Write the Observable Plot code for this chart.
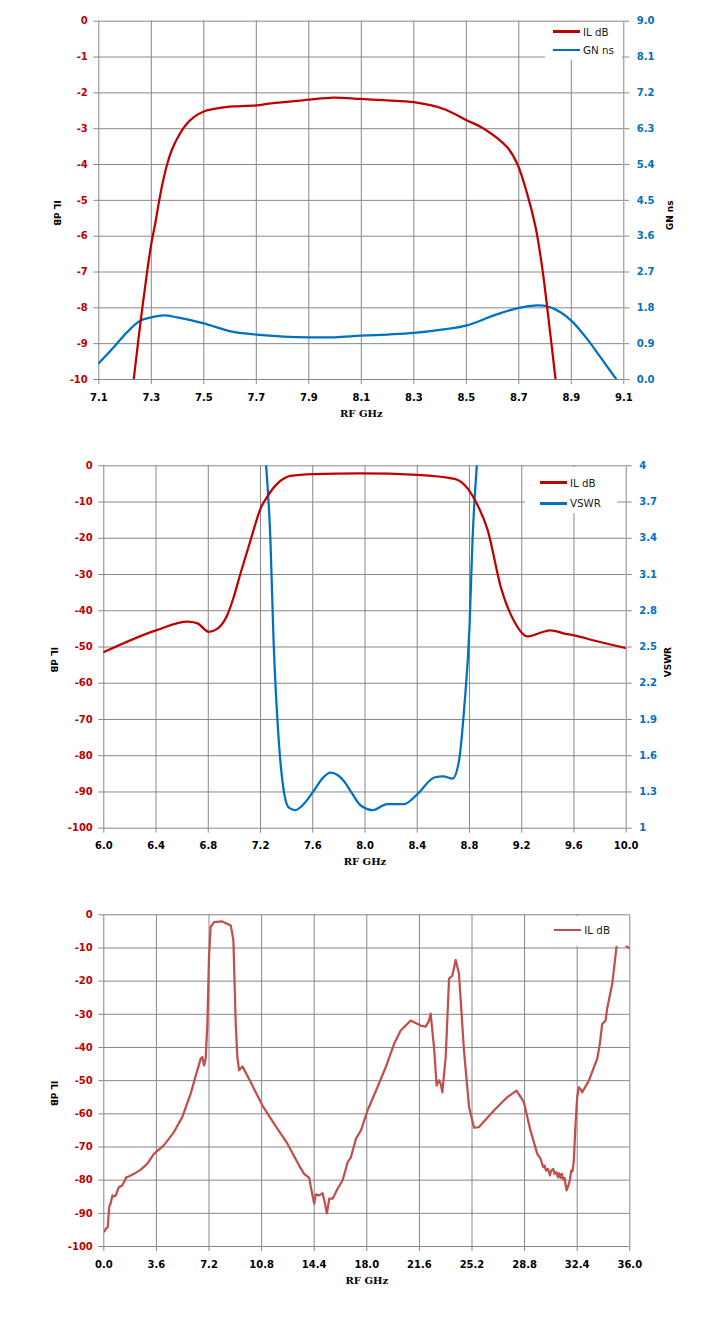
<!DOCTYPE html>
<html><head><meta charset="utf-8">
<script src="https://cdn.jsdelivr.net/npm/d3@7"></script>
<script src="https://cdn.jsdelivr.net/npm/@observablehq/plot@0.6"></script>
<style>
body{margin:0;background:#fff;}
.chart{position:relative;width:718px;}
.chart svg{display:block;}
.legend{position:absolute;background:#fff;font-family:"DejaVu Sans";font-size:10.3px;color:#1a1a1a;}
.legend .row{position:absolute;height:14px;display:flex;align-items:center;white-space:nowrap;}
.legend .sw{display:inline-block;width:27px;height:2.5px;margin-right:3px;}
</style></head><body>
<div id="c1" class="chart"></div>
<div id="c2" class="chart"></div>
<div id="c3" class="chart"></div>
<script>
// ---------- Chart 1 data ----------
const x1Ticks = [7.1,7.3,7.5,7.7,7.9,8.1,8.3,8.5,8.7,8.9,9.1];
const x1Labels = ["7.1","7.3","7.5","7.7","7.9","8.1","8.3","8.5","8.7","8.9","9.1"];
const y1Ticks = [0,-1,-2,-3,-4,-5,-6,-7,-8,-9,-10];
const y1Labels = ["0","-1","-2","-3","-4","-5","-6","-7","-8","-9","-10"];
const gnTicks = [0,0.9,1.8,2.7,3.6,4.5,5.4,6.3,7.2,8.1,9.0];
const gnLabels = ["0.0","0.9","1.8","2.7","3.6","4.5","5.4","6.3","7.2","8.1","9.0"];
const rf1IL = [7.233,7.265,7.30,7.316,7.329,7.344,7.361,7.380,7.405,7.430,7.462,7.50,7.545,7.583,7.614,7.70,7.75,7.805,7.90,7.995,8.097,8.20,8.30,8.414,8.503,8.567,8.656,8.694,8.732,8.764,8.789,8.808,8.840];
const il1 = [-10,-8.05,-6.21,-5.61,-5.05,-4.49,-3.98,-3.56,-3.19,-2.91,-2.68,-2.52,-2.44,-2.40,-2.38,-2.35,-2.30,-2.26,-2.19,-2.13,-2.17,-2.21,-2.26,-2.45,-2.77,-3.0,-3.52,-3.98,-4.82,-5.75,-6.87,-7.98,-10];
const rf1GN = [7.10,7.157,7.208,7.259,7.30,7.348,7.399,7.50,7.602,7.70,7.805,7.90,8.0,8.097,8.20,8.30,8.414,8.503,8.605,8.70,8.770,8.808,8.859,8.903,8.96,9.011,9.072];
const gn1 = [0.41,0.81,1.19,1.48,1.56,1.61,1.56,1.41,1.21,1.13,1.08,1.06,1.06,1.10,1.13,1.17,1.26,1.36,1.61,1.80,1.86,1.84,1.69,1.46,1.02,0.56,0];

// ---------- Chart 2 data ----------
const x2Ticks = [6.0,6.4,6.8,7.2,7.6,8.0,8.4,8.8,9.2,9.6,10.0];
const x2Labels = ["6.0","6.4","6.8","7.2","7.6","8.0","8.4","8.8","9.2","9.6","10.0"];
const y2Ticks = [0,-10,-20,-30,-40,-50,-60,-70,-80,-90,-100];
const y2Labels = ["0","-10","-20","-30","-40","-50","-60","-70","-80","-90","-100"];
const vsTicks = [4,3.7,3.4,3.1,2.8,2.5,2.2,1.9,1.6,1.3,1];
const vsLabels = ["4","3.7","3.4","3.1","2.8","2.5","2.2","1.9","1.6","1.3","1"];
const rf2IL = [6.0,6.4,6.64,6.714,6.804,6.868,6.944,6.995,7.046,7.123,7.205,7.25,7.327,7.43,7.60,7.965,8.4,8.685,8.787,8.85,8.94,9.04,9.145,9.246,9.348,9.42,9.527,9.6,9.753,9.855,10.0];
const il2 = [-51.4,-45.4,-43.0,-43.4,-45.8,-45.0,-41.3,-36.2,-29.8,-20.6,-11.4,-8.6,-5.0,-2.8,-2.3,-2.1,-2.5,-3.6,-6.3,-10.0,-17.8,-33.5,-43.1,-47.1,-46.0,-45.4,-46.3,-46.8,-48.2,-49.1,-50.3];
const rf2VS = [7.243,7.276,7.30,7.34,7.378,7.417,7.468,7.531,7.608,7.68,7.736,7.79,7.838,7.90,7.965,8.06,8.17,8.30,8.40,8.53,8.60,8.67,8.72,8.76,8.80,8.823,8.856];
const vs2 = [4.0,3.38,2.55,1.72,1.31,1.17,1.15,1.20,1.31,1.42,1.46,1.44,1.39,1.29,1.19,1.15,1.20,1.20,1.28,1.42,1.43,1.41,1.56,2.0,2.66,3.38,4.0];

// ---------- Chart 3 data ----------
const x3Ticks = [0,3.6,7.2,10.8,14.4,18.0,21.6,25.2,28.8,32.4,36.0];
const x3Labels = ["0.0","3.6","7.2","10.8","14.4","18.0","21.6","25.2","28.8","32.4","36.0"];
const rf3 = [0.05,0.18,0.27,0.37,0.46,0.59,0.69,0.82,1.03,1.26,1.55,1.71,2.06,2.51,2.97,3.43,4.11,4.8,5.37,5.94,6.4,6.63,6.74,6.86,6.97,7.09,7.2,7.31,7.54,8.11,8.69,8.87,9.03,9.14,9.26,9.49,10.06,10.86,11.66,12.57,13.37,13.71,14.06,14.17,14.4,14.51,14.74,14.97,15.09,15.27,15.43,15.66,16.0,16.34,16.69,16.91,17.26,17.6,
  18.05,18.73,19.30,19.87,20.32,21.0,21.69,22.03,22.26,22.37,22.6,22.78,22.94,23.06,23.17,23.4,23.63,23.86,24.08,24.31,24.65,25.0,25.34,25.68,26.7,27.61,28.25,28.75,29.2,
  29.666,29.893,30.076,30.167,30.258,30.395,30.531,30.622,30.759,30.850,30.987,31.078,31.169,31.260,31.351,31.443,31.534,31.670,31.761,31.898,31.989,32.080,32.171,
  32.286,32.40,32.51,32.63,32.74,33.2,33.54,33.77,33.95,34.11,34.34,34.45,34.8,35.14,35.36,35.7,36.0];
const il3 = [-95.4,-94.4,-94.2,-88.1,-87.1,-84.6,-84.9,-84.6,-82.1,-81.6,-79.1,-78.9,-78.1,-76.9,-75.1,-72.1,-69.5,-65.5,-61.0,-54.0,-46.9,-43.4,-42.9,-45.4,-43.4,-32.9,-12.8,-3.7,-2.2,-2.0,-3.2,-7.7,-32.9,-42.9,-46.9,-45.7,-50.5,-57.5,-63.0,-69.0,-75.6,-78.1,-79.3,-82.1,-87.1,-84.3,-84.6,-83.9,-86.1,-90.0,-85.6,-85.6,-82.6,-80.1,-74.6,-73.1,-67.5,-65.0,
  -59.0,-52.0,-45.9,-38.9,-34.9,-31.9,-33.4,-33.7,-31.9,-29.8,-39.9,-51.5,-49.9,-51.0,-53.5,-42.9,-19.3,-18.3,-13.6,-17.8,-40.9,-58.0,-64.2,-64.0,-59.0,-55.0,-53.0,-56.5,-65.0,
  -72.06,-73.6,-76.1,-75.6,-77.1,-76.6,-78.6,-77.1,-76.6,-78.1,-77.6,-79.1,-77.9,-79.3,-78.1,-79.9,-79.3,-83.1,-82.1,-80.1,-77.1,-77.3,-74.1,
  -63.0,-55.0,-52.0,-52.5,-53.5,-50.0,-46.0,-43.4,-38.9,-32.9,-31.9,-28.3,-20.8,-7.7,-6.4,-9.2,-10.2];

// ---------- styling ----------
const GRID = "#878787";
const RED = "#C00000", BLUE = "#0070C0", RED3 = "#C0504D";
const tickFont = {fontFamily:"DejaVu Sans", fontSize:10, fontWeight:"bold"};
const titleFont = {fontFamily:"DejaVu Sans", fontSize:9, fontWeight:"bold", fill:"#000"};
const xTitleFont = {fontFamily:"DejaVu Serif", fontSize:10, fontWeight:"bold", fill:"#000"};
const lookup = (vals, labels) => d => labels[vals.indexOf(d)];
const zipRows = (xs, ys) => xs.map((x, i) => ({x, y: ys[i]}));

function baseMarks(xTicks, xLabels, yTicks, yLabels, yColor) {
  return [
    Plot.gridX(xTicks, {stroke: GRID, strokeOpacity: 1}),
    Plot.gridY(yTicks, {stroke: GRID, strokeOpacity: 1}),
    Plot.axisX(xTicks, {anchor: "bottom", tickSize: 5, tickPadding: 9, stroke: GRID, fill: "#000", tickFormat: lookup(xTicks, xLabels), label: null, ...tickFont}),
    Plot.axisY(yTicks, {anchor: "left", tickSize: 5, tickPadding: 6, stroke: GRID, fill: yColor, tickFormat: lookup(yTicks, yLabels), label: null, ...tickFont})
  ];
}

function legend(el, box, rows) {
  const lg = document.createElement("div");
  lg.className = "legend";
  Object.assign(lg.style, {left: box[0] + "px", top: box[1] + "px", width: box[2] + "px", height: box[3] + "px"});
  rows.forEach(r => {
    const row = document.createElement("div");
    row.className = "row";
    row.style.left = r.left + "px";
    row.style.top = (r.cy - 7) + "px";
    row.innerHTML = `<span class="sw" style="background:${r.color}"></span><span>${r.text}</span>`;
    lg.appendChild(row);
  });
  el.appendChild(lg);
}

// ---------- Chart 1 ----------
{
  const gnToY = v => v / 9 * 10 - 10;
  const gnPos = gnTicks.map(gnToY);
  const p = Plot.plot({
    width: 718, height: 440,
    marginTop: 20.7, marginBottom: 61, marginLeft: 98.3, marginRight: 94.7,
    x: {domain: [7.1, 9.1]}, y: {domain: [-10, 0]},
    style: {fontFamily: "DejaVu Sans", background: "#fff", overflow: "visible"},
    marks: [
      ...baseMarks(x1Ticks, x1Labels, y1Ticks, y1Labels, RED),
      Plot.axisY(gnPos, {anchor: "right", tickSize: 5, tickPadding: 8, stroke: GRID, fill: BLUE, tickFormat: lookup(gnPos, gnLabels), label: null, ...tickFont}),
      Plot.line(zipRows(rf1GN, gn1), {x: "x", y: d => gnToY(d.y), stroke: BLUE, strokeWidth: 2.25, curve: "catmull-rom", clip: true}),
      Plot.line(zipRows(rf1IL, il1), {x: "x", y: "y", stroke: RED, strokeWidth: 2.25, curve: "catmull-rom", clip: true}),
      Plot.text(["RF GHz"], {text: d => d, frameAnchor: "bottom", dy: 37.7, ...xTitleFont}),
      Plot.text(["IL dB"], {text: d => d, frameAnchor: "left", dx: -42.3, rotate: 90, ...titleFont}),
      Plot.text(["GN ns"], {text: d => d, frameAnchor: "right", dx: 46, rotate: -90, ...titleFont})
    ]
  });
  const el = document.getElementById("c1");
  el.appendChild(p);
  legend(el, [545, 22, 77, 38], [
    {left: 8, cy: 9.7, color: RED, text: "IL dB"},
    {left: 8, cy: 28, color: BLUE, text: "GN ns"}
  ]);
}

// ---------- Chart 2 ----------
{
  const vsToY = v => (v - 1) / 3 * 100 - 100;
  const vsPos = vsTicks.map(vsToY);
  const p = Plot.plot({
    width: 718, height: 445,
    marginTop: 25.3, marginBottom: 57.3, marginLeft: 103.3, marginRight: 92.3,
    x: {domain: [6, 10]}, y: {domain: [-100, 0]},
    style: {fontFamily: "DejaVu Sans", background: "#fff", overflow: "visible"},
    marks: [
      ...baseMarks(x2Ticks, x2Labels, y2Ticks, y2Labels, RED),
      Plot.axisY(vsPos, {anchor: "right", tickSize: 5, tickPadding: 8, stroke: GRID, fill: BLUE, tickFormat: lookup(vsPos, vsLabels), label: null, ...tickFont}),
      Plot.line(zipRows(rf2VS, vs2), {x: "x", y: d => vsToY(d.y), stroke: BLUE, strokeWidth: 2.25, curve: "monotone-x", clip: true}),
      Plot.line(zipRows(rf2IL, il2), {x: "x", y: "y", stroke: RED, strokeWidth: 2.25, curve: "monotone-x", clip: true}),
      Plot.text(["RF GHz"], {text: d => d, frameAnchor: "bottom", dy: 36.3, ...xTitleFont}),
      Plot.text(["IL dB"], {text: d => d, frameAnchor: "left", dx: -50, rotate: 90, ...titleFont}),
      Plot.text(["VSWR"], {text: d => d, frameAnchor: "right", dx: 42.3, rotate: -90, ...titleFont})
    ]
  });
  const el = document.getElementById("c2");
  el.appendChild(p);
  legend(el, [525, 27, 92, 46], [
    {left: 15, cy: 15.7, color: RED, text: "IL dB"},
    {left: 15, cy: 36.3, color: BLUE, text: "VSWR"}
  ]);
}

// ---------- Chart 3 ----------
{
  const p = Plot.plot({
    width: 718, height: 447,
    marginTop: 29.3, marginBottom: 86, marginLeft: 103.3, marginRight: 88.7,
    x: {domain: [0, 36]}, y: {domain: [-100, 0]},
    style: {fontFamily: "DejaVu Sans", background: "#fff", overflow: "visible"},
    marks: [
      ...baseMarks(x3Ticks, x3Labels, y2Ticks, y2Labels, RED),
      Plot.line(zipRows(rf3, il3), {x: "x", y: "y", stroke: RED3, strokeWidth: 2.25, clip: true}),
      Plot.text(["RF GHz"], {text: d => d, frameAnchor: "bottom", dy: 37.3, ...xTitleFont}),
      Plot.text(["IL dB"], {text: d => d, frameAnchor: "left", dx: -50, rotate: 90, ...titleFont})
    ]
  });
  const el = document.getElementById("c3");
  el.appendChild(p);
  legend(el, [552, 31, 75, 30], [
    {left: 2.3, cy: 14, color: RED3, text: "IL dB"}
  ]);
}
</script>
</body></html>
